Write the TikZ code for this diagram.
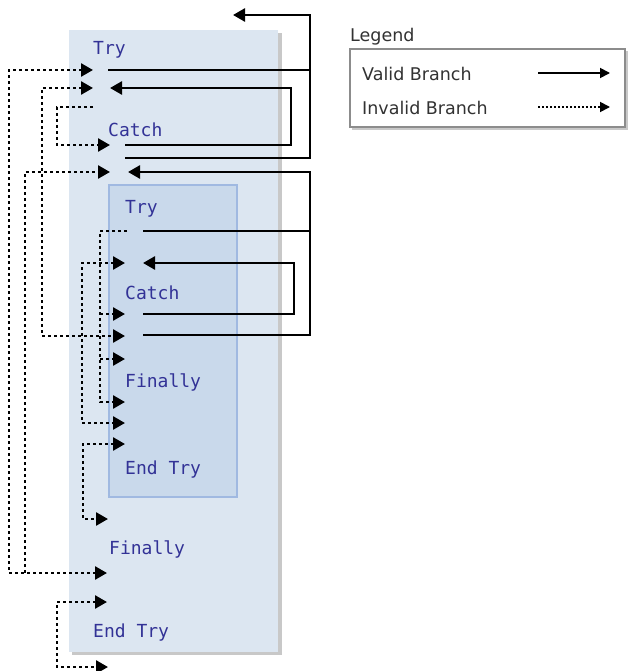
\documentclass[tikz,border=0pt]{standalone}
\usepackage{fontspec}
\usetikzlibrary{arrows.meta}
\newfontfamily\codefont{DejaVu Sans Mono}
\newfontfamily\legendfont{DejaVu Sans}
\definecolor{outerfill}{RGB}{220,230,241}
\definecolor{innerfill}{RGB}{201,217,235}
\definecolor{innerborder}{RGB}{160,185,225}
\definecolor{codeblue}{RGB}{50,50,150}
\definecolor{legendtext}{RGB}{50,50,50}
\definecolor{shadowgray}{RGB}{200,200,200}
\tikzset{
  codelabel/.style={anchor=base west, inner sep=0pt, text=codeblue, font=\codefont\fontsize{18}{21}\selectfont},
  legendlabel/.style={anchor=base west, inner sep=0pt, text=legendtext, font=\legendfont\fontsize{17.5}{21}\selectfont},
  tipbig/.style={-{Triangle[length=12pt,width=13pt]}},
  validline/.style={line width=2.6pt, draw=black},
  validbranch/.style={validline, tipbig},
  invalidline/.style={line width=2.6pt, draw=black, dash pattern=on 2.6pt off 3.4pt},
  invalidbranch/.style={invalidline, tipbig},
  invalidboth/.style={invalidline, {Triangle[length=12pt,width=13pt]}-{Triangle[length=12pt,width=13pt]}},
}
\begin{document}
\begin{tikzpicture}[x=1pt,y=-1pt]
\useasboundingbox (0,0) rectangle (629,671);
% outer block
\fill[shadowgray] (72,33) rectangle (282,655);
\fill[outerfill] (69,30) rectangle (278,652);
% inner block
\draw[innerborder, fill=innerfill, line width=2.2pt] (109,185) rectangle (237,497);
% labels
\node[codelabel] (try1) at (93,55) {Try};
\node[codelabel] (catch1) at (108,137) {Catch};
\node[codelabel] (try2) at (125,213) {Try};
\node[codelabel] (catch2) at (125,299) {Catch};
\node[codelabel] (fin2) at (125,387) {Finally};
\node[codelabel] (end2) at (125,474) {End Try};
\node[codelabel] (fin1) at (109,554) {Finally};
\node[codelabel] (end1) at (93,637) {End Try};
% coordinates
\coordinate (a70s) at (108,70);   \coordinate (a70t) at (93,70);
\coordinate (top) at (233,15);
\coordinate (b88) at (110,88);    \coordinate (b88t) at (93,88);
\coordinate (c107) at (93,107);
\coordinate (c145s) at (125,145); \coordinate (c145t) at (110,145);
\coordinate (c158) at (125,158);
\coordinate (d172s) at (128,172); \coordinate (d172t) at (110,172);
\coordinate (e231s) at (143,231); \coordinate (e231d) at (127,231);
\coordinate (f263s) at (143,263); \coordinate (f263t) at (125,263);
\coordinate (g314s) at (143,314); \coordinate (g314t) at (125,314);
\coordinate (h335s) at (143,335); \coordinate (h336t) at (125,336);
\coordinate (i359) at (125,359);
\coordinate (j402) at (125,402);
\coordinate (k423) at (125,423);
\coordinate (l444) at (125,444);
\coordinate (m519) at (108,519);
\coordinate (n573) at (107,573);
\coordinate (o602) at (107,602);
\coordinate (p667) at (108,667);
% valid branches
\draw[validline] (a70s) -- (310,70);
\draw[validbranch] (c158) -- (310,158) -- (310,15) -- (top);
\draw[validbranch] (c145s) -- (291,145) -- (291,88) -- (b88);
\draw[validline] (e231s) -- (310,231);
\draw[validbranch] (h335s) -- (310,335) -- (310,172) -- (d172s);
\draw[validbranch] (g314s) -- (294,314) -- (294,263) -- (f263s);
% invalid branches
\draw[invalidboth] (a70t) -- (9,70) -- (9,573) -- (n573);
\draw[invalidbranch] (25,573) -- (25,172) -- (d172t);
\draw[invalidboth] (b88t) -- (42,88) -- (42,336) -- (h336t);
\draw[invalidbranch] (c107) -- (57,107) -- (57,145) -- (c145t);
\draw[invalidbranch] (e231d) -- (100,231) -- (100,402) -- (j402);
\draw[invalidbranch] (100,314) -- (g314t);
\draw[invalidbranch] (100,359) -- (i359);
\draw[invalidboth] (f263t) -- (82,263) -- (82,423) -- (k423);
\draw[invalidboth] (l444) -- (83,444) -- (83,519) -- (m519);
\draw[invalidboth] (o602) -- (57,602) -- (57,667) -- (p667);
% legend
\node[legendlabel] (legtitle) at (350,42) {Legend};
\fill[shadowgray] (352,51) rectangle (628,130);
\draw[draw=black!45, fill=white, line width=1.8pt] (350,49) rectangle (625,127);
\node[legendlabel] (validtxt) at (362,81) {Valid Branch};
\node[legendlabel] (invalidtxt) at (362,115) {Invalid Branch};
\coordinate (lv1) at (538,73); \coordinate (lv2) at (610,73);
\coordinate (li1) at (538,107); \coordinate (li2) at (610,107);
\draw[line width=1.8pt, draw=black, -{Triangle[length=10pt,width=10pt]}] (lv1) -- (lv2);
\draw[line width=1.8pt, draw=black, dash pattern=on 1.8pt off 2.2pt, -{Triangle[length=10pt,width=10pt]}] (li1) -- (li2);
\end{tikzpicture}
\end{document}
